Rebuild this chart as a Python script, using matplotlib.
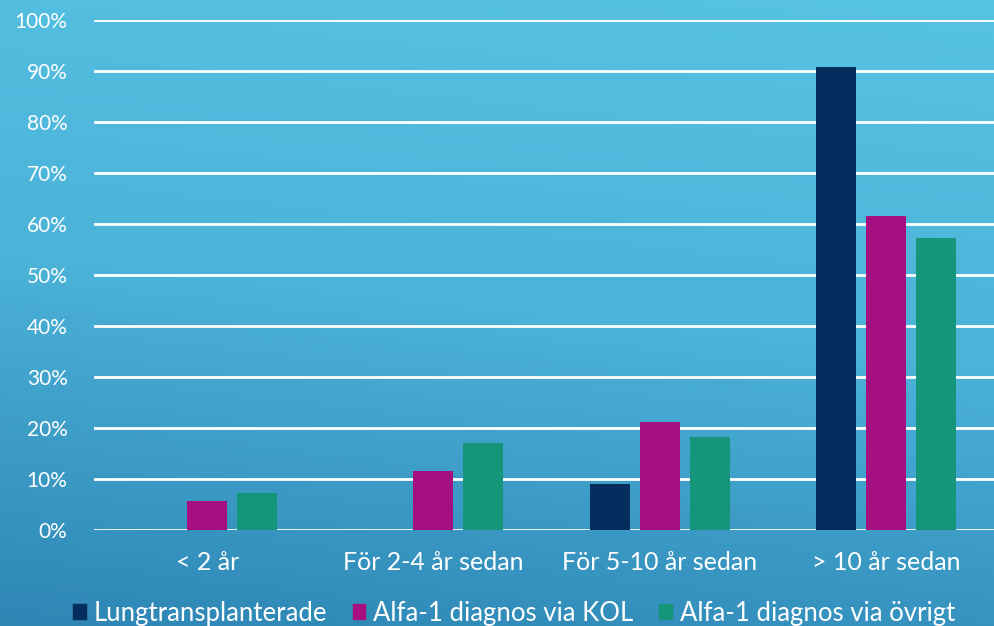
import numpy as np
import matplotlib
matplotlib.use("Agg")
import matplotlib.pyplot as plt
from matplotlib.colors import LinearSegmentedColormap
from matplotlib.patches import Patch

categories = ["< 2 år", "För 2-4 år sedan", "För 5-10 år sedan", "> 10 år sedan"]
series_names = ["Lungtransplanterade", "Alfa-1 diagnos via KOL", "Alfa-1 diagnos via övrigt"]
lungtransplanterade = [0.0, 0.0, 9.0, 90.8]
kol = [5.7, 11.6, 21.1, 61.6]
ovrigt = [7.3, 17.1, 18.2, 57.3]
colors = ["#052d5e", "#a50f80", "#15967a"]
ytick_vals = list(range(0, 101, 10))

plt.rcParams["font.family"] = ["Lato", "DejaVu Sans"]

fig = plt.figure(figsize=(9.94, 6.26), dpi=100)

# blue diagonal gradient behind everything
bg = fig.add_axes([0, 0, 1, 1], zorder=-10)
cmap = LinearSegmentedColormap.from_list("bg", ["#2e86b5", "#4bb2d8", "#57c3e3"])
yy, xx = np.mgrid[0:1:200j, 0:1:200j]
grad = 0.85 * yy + 0.15 * xx
bg.imshow(grad, cmap=cmap, origin="lower", aspect="auto", extent=[0, 1, 0, 1])
bg.set_axis_off()

ax = fig.add_axes([94 / 994, 1 - 530 / 626, 905 / 994, 510 / 626])
ax.set_facecolor("none")

x = np.arange(len(categories))
width = 0.177
step = 0.221
for i, (vals, name, c) in enumerate(zip([lungtransplanterade, kol, ovrigt], series_names, colors)):
    ax.bar(x + (i - 1) * step, vals, width, color=c, label=name, zorder=3)

ax.set_xlim(-0.5, len(categories) - 0.5)
ax.set_ylim(0, 100)
ax.set_yticks(ytick_vals)
ax.set_yticklabels([f"{v}%" for v in ytick_vals])
ax.set_xticks(x)
ax.set_xticklabels(categories)
ax.yaxis.grid(True, color="white", lw=2, zorder=1)
ax.tick_params(length=0, colors="white")
ax.tick_params(axis="y", pad=19, labelsize=15)
ax.tick_params(axis="x", pad=15, labelsize=18)
for s in ax.spines.values():
    s.set_visible(False)

handles = [Patch(color=c) for c in colors]
fig.legend(handles, series_names, loc="center", bbox_to_anchor=(0.517, 13 / 626), ncol=3,
           frameon=False, fontsize=18.5, labelcolor="white", handlelength=0.5, handleheight=0.5,
           handletextpad=0.3, columnspacing=1.0, borderpad=0)

fig.savefig("out.png", dpi=100)
